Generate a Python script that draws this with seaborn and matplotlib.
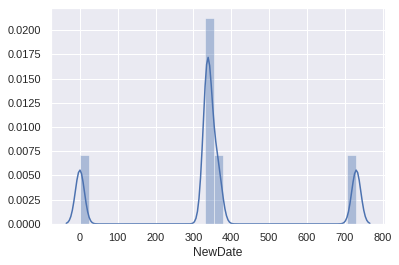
import warnings
warnings.filterwarnings("ignore")
import matplotlib
matplotlib.use("Agg")
import matplotlib.pyplot as plt
import seaborn as sns
import pandas as pd

# Days since first date
new_date = [0, 337, 338, 338, 364, 730]
n_bins = 31

sns.set_theme()
plt.rcParams["font.family"] = ["Liberation Sans", "DejaVu Sans"]
df = pd.DataFrame({"NewDate": new_date})

fig = plt.figure(figsize=(399 / 72, 265 / 72), dpi=72)
ax = fig.add_axes([0.128, 0.155, 0.837, 0.815])
sns.distplot(df["NewDate"], bins=n_bins, ax=ax, kde_kws={"bw_adjust": 0.074})
ax.set_xlabel("NewDate")
ax.set_ylabel("")
fig.savefig("out.png", dpi=72)
